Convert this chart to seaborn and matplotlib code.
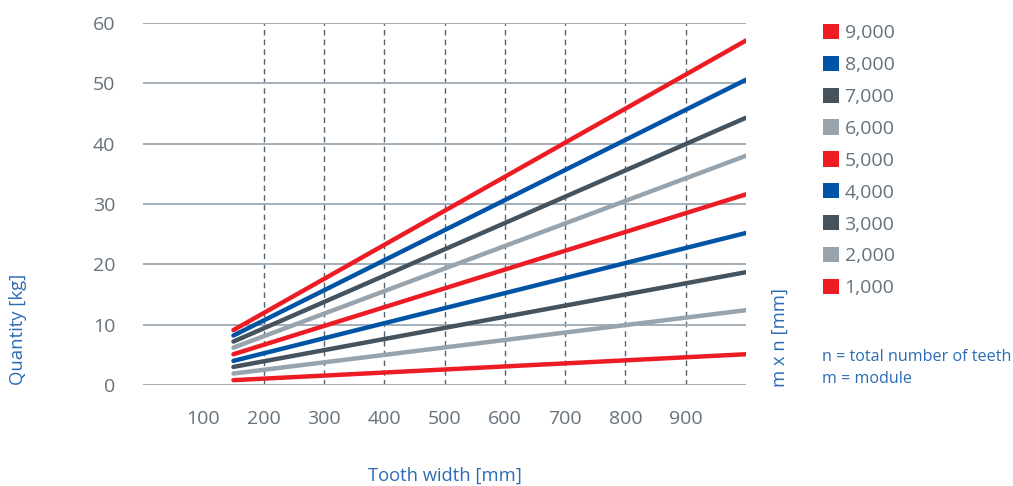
import pandas as pd
import seaborn as sns
import matplotlib.pyplot as plt
from matplotlib.patches import Patch

# m x n series at tooth width 150 and 1000 mm
series = ['9,000', '8,000', '7,000', '6,000', '5,000', '4,000', '3,000', '2,000', '1,000']
width = [150, 1000]
qty_start = [9.1, 8.2, 7.2, 6.2, 5.1, 4.0, 3.0, 1.9, 0.8]
qty_end = [57.1, 50.6, 44.3, 38.0, 31.6, 25.2, 18.7, 12.4, 5.1]
colors = ['#ED1C24', '#0054A6', '#45535E', '#97A3AD',
          '#ED1C24', '#0054A6', '#45535E', '#97A3AD', '#ED1C24']
xticks = [100, 200, 300, 400, 500, 600, 700, 800, 900]
yticks = [0, 10, 20, 30, 40, 50, 60]

rows = []
for s, a, b in zip(series, qty_start, qty_end):
    rows.append({'Tooth width': width[0], 'Quantity': a, 'mxn': s})
    rows.append({'Tooth width': width[1], 'Quantity': b, 'mxn': s})
df = pd.DataFrame(rows)

sns.set_style('white')
plt.rcParams['font.family'] = ['Open Sans', 'DejaVu Sans']

tick_col = '#65717B'
blue_txt = '#2B6CB5'

fig = plt.figure(figsize=(10.13, 4.86), dpi=100)
ax = fig.add_axes([143/1013, 1 - 385/486, 603/1013, 362/486])

sns.lineplot(data=df, x='Tooth width', y='Quantity', hue='mxn',
             palette=dict(zip(series, colors)), linewidth=3.2,
             legend=False, ax=ax, zorder=3)

ax.set_xlim(0, 1000)
ax.set_ylim(0, 60)
ax.set_xticks(xticks)
ax.set_yticks(yticks)
ax.tick_params(axis='both', length=0, labelsize=14, colors=tick_col)
ax.tick_params(axis='x', pad=18)
ax.tick_params(axis='y', pad=20)
for s in ax.spines.values():
    s.set_visible(False)

ax.yaxis.grid(True, color='#A3AFB9', linewidth=1.4, zorder=1)
ax.xaxis.grid(True, color='#56636E', linewidth=1.0, linestyle=(0, (4, 3)), zorder=1)
ax.get_xgridlines()[0].set_visible(False)
ax.set_axisbelow(True)

ax.set_xlabel('')
ax.set_ylabel('')
fig.text(445/1013, 1 - 476/486, 'Tooth width [mm]', color=blue_txt,
         fontsize=13.2, ha='center', va='center')
fig.text(18/1013, 1 - 329/486, 'Quantity [kg]', color=blue_txt,
         fontsize=13.3, ha='center', va='center', rotation=90)
fig.text(780/1013, 1 - 337/486, 'm x n [mm]', color=blue_txt,
         fontsize=13.3, ha='center', va='center', rotation=90)
fig.text(822/1013, 1 - 357/486, 'n = total number of teeth', color=blue_txt,
         fontsize=11.6, ha='left', va='center')
fig.text(822/1013, 1 - 379/486, 'm = module', color=blue_txt,
         fontsize=11.6, ha='left', va='center')

handles = [Patch(facecolor=c, edgecolor='none', label=s) for s, c in zip(series, colors)]
leg = fig.legend(handles=handles, loc='upper left',
                 bbox_to_anchor=(813/1013, 1 - 14/486), frameon=False,
                 fontsize=14, handlelength=0.82, handleheight=0.82,
                 handletextpad=0.3, labelspacing=0.70, borderpad=0)
for t in leg.get_texts():
    t.set_color(tick_col)

fig.savefig('out.png', dpi=100)
